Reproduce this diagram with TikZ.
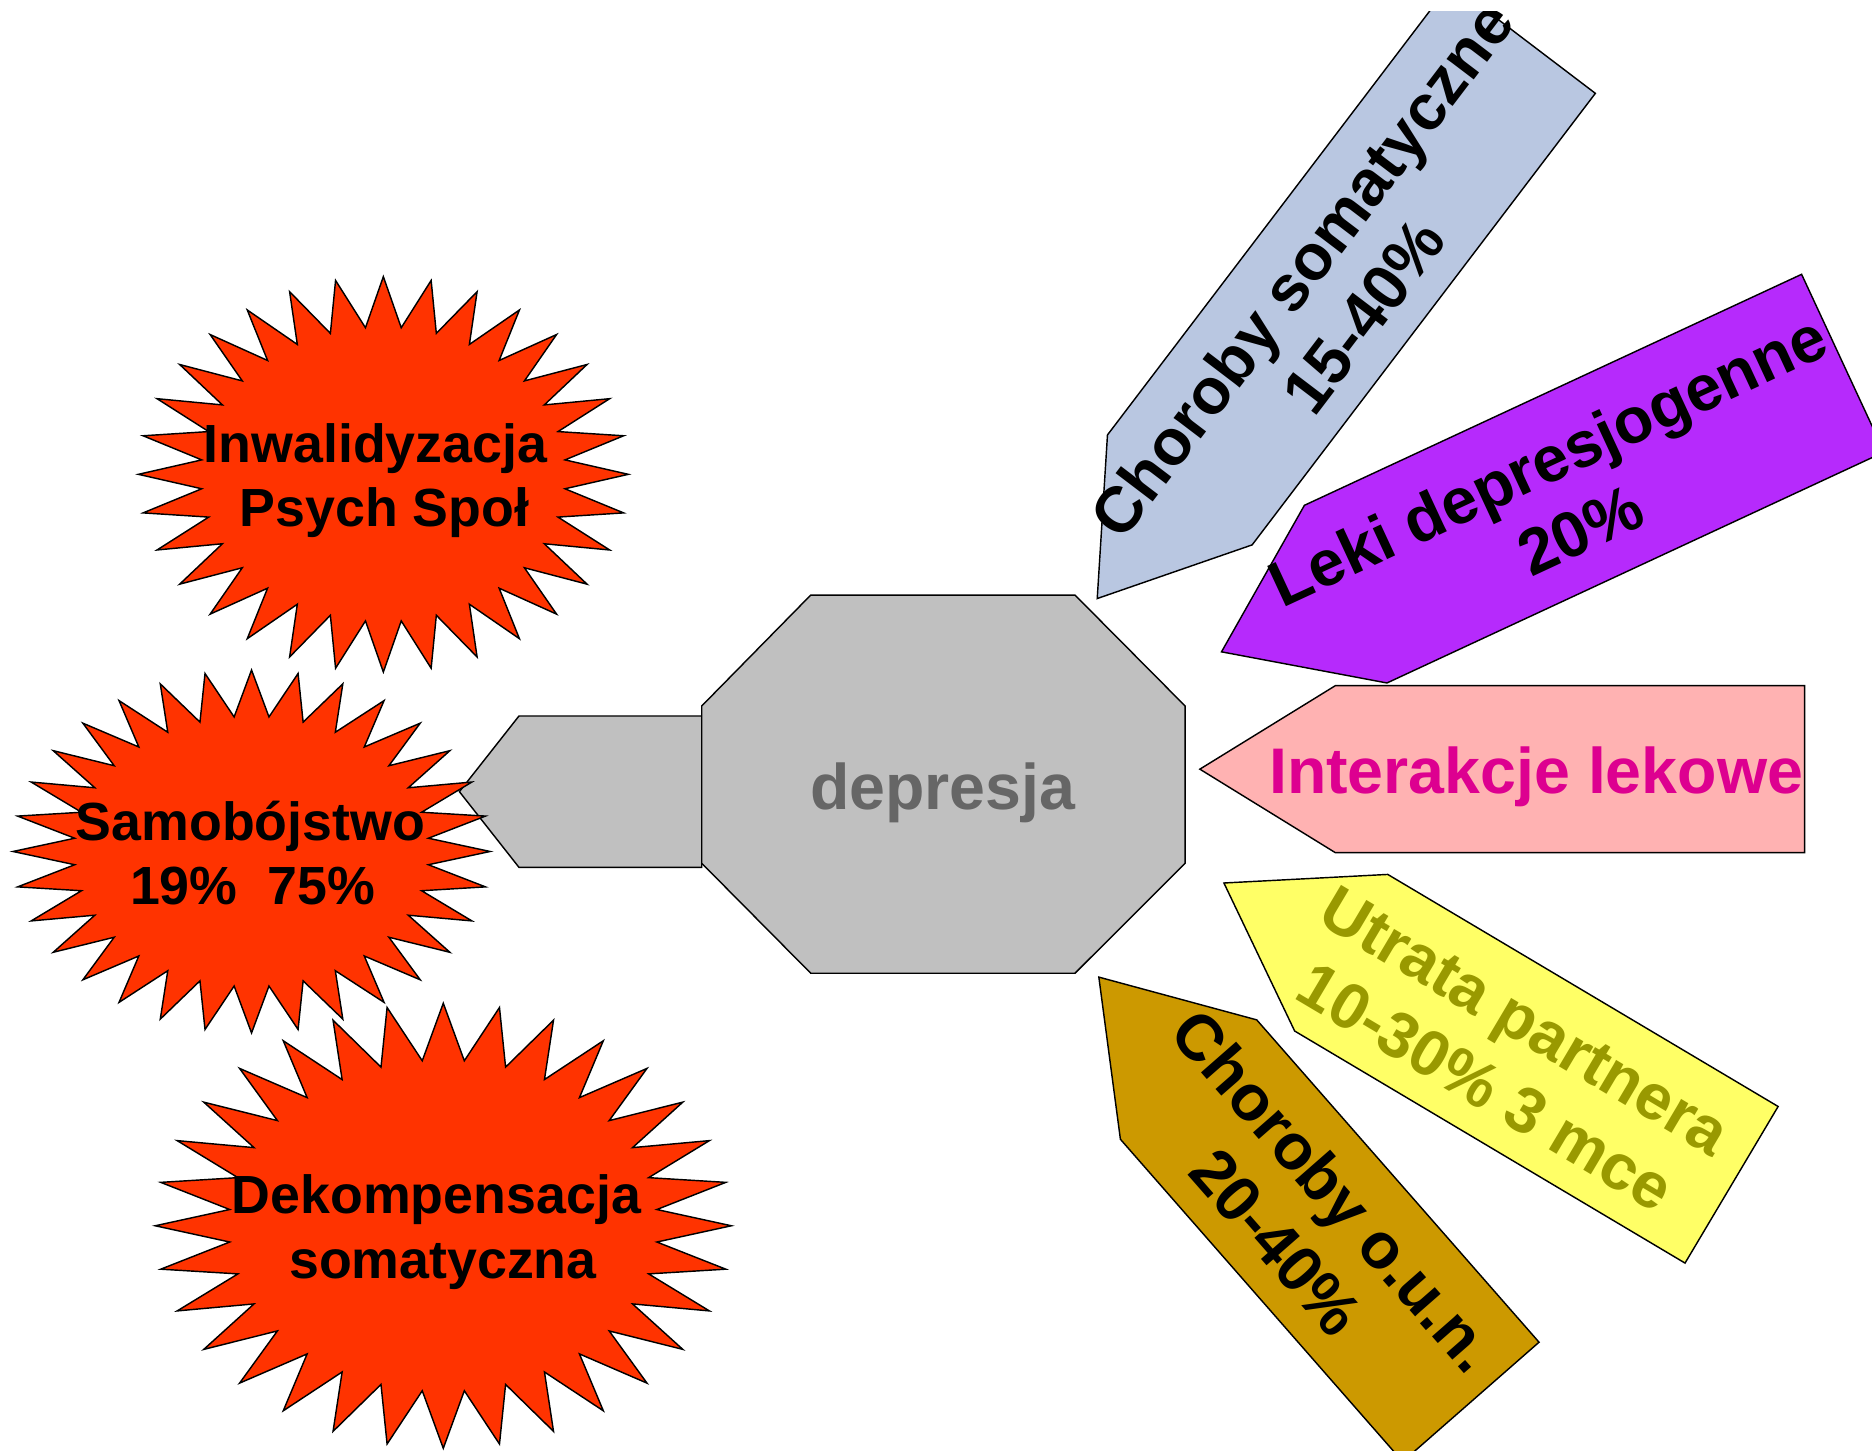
\documentclass[tikz,border=0pt]{standalone}
\usepackage{fontspec}
\setmainfont{Liberation Sans}
\definecolor{starred}{RGB}{255,51,0}
\definecolor{octgray}{RGB}{192,192,192}
\definecolor{deptext}{RGB}{102,102,102}
\definecolor{blueshape}{RGB}{185,199,225}
\definecolor{purpleshape}{RGB}{182,42,252}
\definecolor{pinkshape}{RGB}{255,178,178}
\definecolor{pinktext}{RGB}{221,0,144}
\definecolor{yellowshape}{RGB}{255,255,102}
\definecolor{olivetext}{RGB}{153,153,0}
\definecolor{brownshape}{RGB}{204,153,0}
\tikzset{
  shp/.style={draw=black, line width=0.6pt, line join=miter},
  bigtxt/.style={font=\fontsize{27}{32.4}\selectfont\bfseries, inner sep=0pt, anchor=base},
  smalltxt/.style={font=\fontsize{22.5}{27}\selectfont\bfseries, inner sep=0pt, anchor=base},
}
\newcommand\drawburst[4]{%
  \draw[shp, fill=starred] ({#1},{#2-#4})
  \foreach \k in {1,...,63}{ -- ({#1+(0.8725+0.1275*cos(\k*180))*#3*cos(90+\k*5.625)},{#2-(0.8725+0.1275*cos(\k*180))*#4*sin(90+\k*5.625)}) } -- cycle;}
\begin{document}
\begin{tikzpicture}[x=0.5pt,y=-0.5pt]
\useasboundingbox (0,0) rectangle (1568,1215);
\begin{scope}
\clip (0,9.3) rectangle (1568,1215);
% left tab and central octagon
\draw[shp, fill=octgray] (434.7,599.7) -- (587.8,599.7) -- (587.8,726.5) -- (434.7,726.5) -- (384.8,663.1) -- cycle;
\draw[shp, fill=octgray] (679.1,498.4) -- (900.4,498.4) -- (992.6,591.3) -- (992.6,723.1) -- (900.4,815.2) -- (679.1,815.2) -- (587.8,723.1) -- (587.8,591.3) -- cycle;
\node[bigtxt, text=deptext] (dep) at (789.75,677.9) {depresja};
% blue
\begin{scope}[shift={(988.2,410.35)}, rotate=52.76]
  \draw[shp, fill=blueshape] (-114.3,0) -- (0,-76.1) -- (475.1,-76.1) -- (475.1,76.1) -- (0,76.1) -- cycle;
  \node[bigtxt, rotate=52.76] (cs1) at (209,-11.65) {Choroby somatyczne};
  \node[bigtxt, rotate=52.76] (cs2) at (209,53.15) {15-40\%};
\end{scope}
% purple
\begin{scope}[shift={(1127.15,497.65)}, rotate=24.92]
  \draw[shp, fill=purpleshape] (-114.7,0) -- (0,-82.05) -- (459.2,-82.05) -- (459.2,82.05) -- (0,82.05) -- cycle;
  \node[bigtxt, rotate=24.92] (ld1) at (200.9,-11.65) {Leki depresjogenne};
  \node[bigtxt, rotate=24.92] (ld2) at (200.9,53.15) {20\%};
\end{scope}
% pink
\begin{scope}[shift={(1118.5,644.25)}]
  \draw[shp, fill=pinkshape] (-113.5,0) -- (0,-69.95) -- (393.1,-69.95) -- (393.1,69.95) -- (0,69.95) -- cycle;
  \node[bigtxt, text=pinktext] (il) at (168.2,20.75) {Interakcje lekowe};
\end{scope}
% yellow
\begin{scope}[shift={(1123.4,798)}, rotate=-30.73]
  \draw[shp, fill=yellowshape] (-114.3,0) -- (0,-76.3) -- (380.4,-76.3) -- (380.4,76.3) -- (0,76.3) -- cycle;
  \node[bigtxt, text=olivetext, rotate=-30.73] (up1) at (161.6,-11.65) {Utrata partnera};
  \node[bigtxt, text=olivetext, rotate=-30.73] (up2) at (161.6,53.15) {10-30\% 3 mce};
\end{scope}
% brown
\begin{scope}[shift={(995.55,904.25)}, rotate=-48.79]
  \draw[shp, fill=brownshape] (-114.1,0) -- (0,-75.9) -- (358.9,-75.9) -- (358.9,75.9) -- (0,75.9) -- cycle;
  \node[bigtxt, rotate=-48.79] (co1) at (150.9,-11.65) {Choroby o.u.n.};
  \node[bigtxt, rotate=-48.79] (co2) at (150.9,53.15) {20-40\%};
\end{scope}
% bursts
\drawburst{321.1}{397.3}{205.2}{165.6}
\node[smalltxt] (inw1) at (314.5,387.2) {Inwalidyzacja};
\node[smalltxt] (inw2) at (322,441.1) {Psych Społ};
\drawburst{210.7}{713.2}{199.8}{152.0}
\node[smalltxt] (sam1) at (209.8,703.6) {Samobójstwo};
\node[smalltxt] (sam2) at (211.5,757.2) {19\%\ \ 75\%};
\drawburst{371.3}{1026.7}{241.3}{186.4}
\node[smalltxt] (dek1) at (365.5,1016.7) {Dekompensacja};
\node[smalltxt] (dek2) at (371,1070.5) {somatyczna};
\end{scope}
\end{tikzpicture}
\end{document}
